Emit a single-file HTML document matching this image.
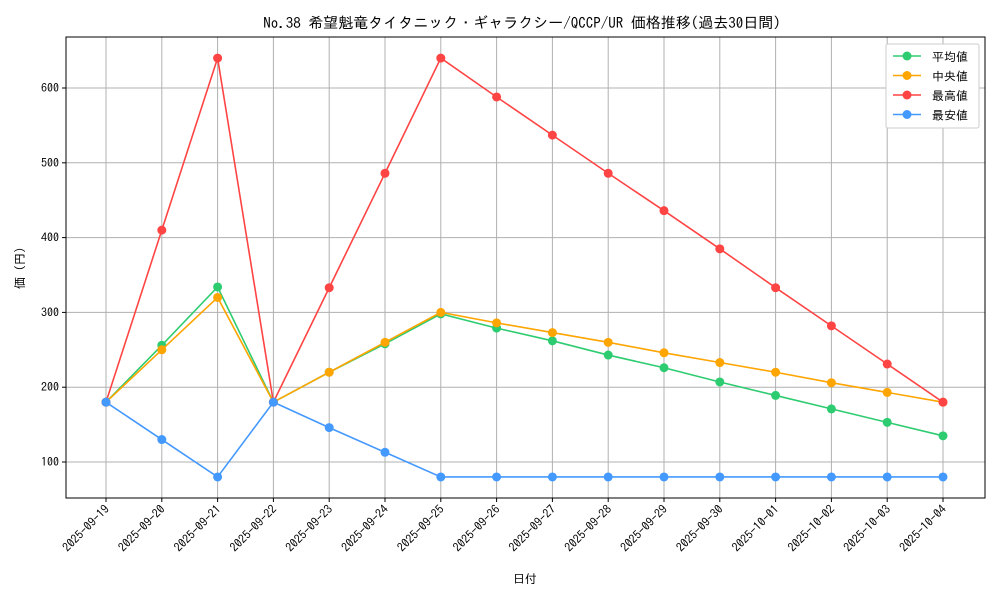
<!DOCTYPE html>
<html><head><meta charset="utf-8"><style>
body{margin:0;background:#fff;}
svg{display:block;font-family:"IPAGothic","Noto Sans CJK JP",monospace;}
</style></head><body>
<svg id="chart" width="1000" height="600">
<text x="522" y="28" text-anchor="middle" font-size="15">No.38 希望魁竜タイタニック・ギャラクシー/QCCP/UR 価格推移(過去30日間)</text>
<g id="grid"></g><g id="axes"></g><g id="series"></g>
<text x="525" y="583" text-anchor="middle" font-size="12">日付</text>
<text x="24" y="268" text-anchor="middle" font-size="12" transform="rotate(-90 24 268)">価 (円)</text>
<g id="legend"></g>
</svg>
<script>
const categories=["2025-09-19","2025-09-20","2025-09-21","2025-09-22","2025-09-23","2025-09-24","2025-09-25","2025-09-26","2025-09-27","2025-09-28","2025-09-29","2025-09-30","2025-10-01","2025-10-02","2025-10-03","2025-10-04"];
const avgValues=[180,256,334,180,220,258,298,279,262,243,226,207,189,171,153,135];
const medianValues=[180,250,320,180,220,260,300,286,273,260,246,233,220,206,193,180];
const maxValues=[180,410,640,180,333,486,640,588,537,486,436,385,333,282,231,180];
const minValues=[180,130,80,180,146,113,80,80,80,80,80,80,80,80,80,80];
const yTicks=[100,200,300,400,500,600];
const seriesNames=["平均値","中央値","最高値","最安値"];
const NS="http://www.w3.org/2000/svg";
const L=66,R=985,T=37,B=498;
const x=i=>106+i*(943-106)/(categories.length-1);
const y=v=>462-(v-100)*0.748;
function mk(tag,attrs,parent){const e=document.createElementNS(NS,tag);for(const k in attrs)e.setAttribute(k,attrs[k]);parent.appendChild(e);return e;}
const grid=document.getElementById('grid'),axes=document.getElementById('axes'),ser=document.getElementById('series'),leg=document.getElementById('legend');
categories.forEach((c,i)=>{
 const g=mk('line',{x1:x(i),x2:x(i),y1:T,y2:B,stroke:'#b0b0b0','stroke-width':1},grid);
 
 
 const tk=mk('line',{x1:x(i),x2:x(i),y1:B,y2:B+4,stroke:'#000'},axes);
 
 
 const t=mk('text',{x:x(i)+4,y:B+12,'font-size':12,'text-anchor':'end',transform:`rotate(-45 ${x(i)+4} ${B+12})`},axes);
 t.textContent=c;
 
 
});
yTicks.forEach(v=>{
 const g=mk('line',{x1:L,x2:R,y1:y(v),y2:y(v),stroke:'#b0b0b0','stroke-width':1},grid);
 
 
 const tk=mk('line',{x1:L-4,x2:L,y1:y(v),y2:y(v),stroke:'#000'},axes);
 
 
 const t=mk('text',{x:L-7,y:y(v)+4,'font-size':12,'text-anchor':'end'},axes);
 t.textContent=v;
 
 
});
const frame=mk('rect',{x:L,y:T,width:R-L,height:B-T,fill:'none',stroke:'#000','stroke-width':1},axes);


const all=[[avgValues,'#2ecc71','avg'],[medianValues,'#ffa500','median'],[maxValues,'#ff4444','max'],[minValues,'#4499ff','min']];
all.forEach(([vals,col,nm])=>{
 const p=mk('polyline',{points:vals.map((v,i)=>x(i)+','+y(v)).join(' '),fill:'none',stroke:col,'stroke-width':1.6},ser);
 
 
 vals.forEach((v,i)=>{
  const c=mk('circle',{cx:x(i),cy:y(v),r:4.5,fill:col},ser);
  
  
 });
});
const box=mk('rect',{x:886,y:44,width:93,height:84,fill:'#fff',stroke:'#ccc',rx:2},leg);


all.forEach(([v,col,nm],i)=>{
 const yy=56+i*19.5;
 const g=mk('g',{},leg);
 
 
 mk('line',{x1:893,x2:921,y1:yy,y2:yy,stroke:col,'stroke-width':1.6},g);
 mk('circle',{cx:907,cy:yy,r:4.5,fill:col},g);
 const t=mk('text',{x:932,y:yy+5,'font-size':12},g);
 t.textContent=(i==1?' ':'')+seriesNames[i];
});
</script>
</body></html>
